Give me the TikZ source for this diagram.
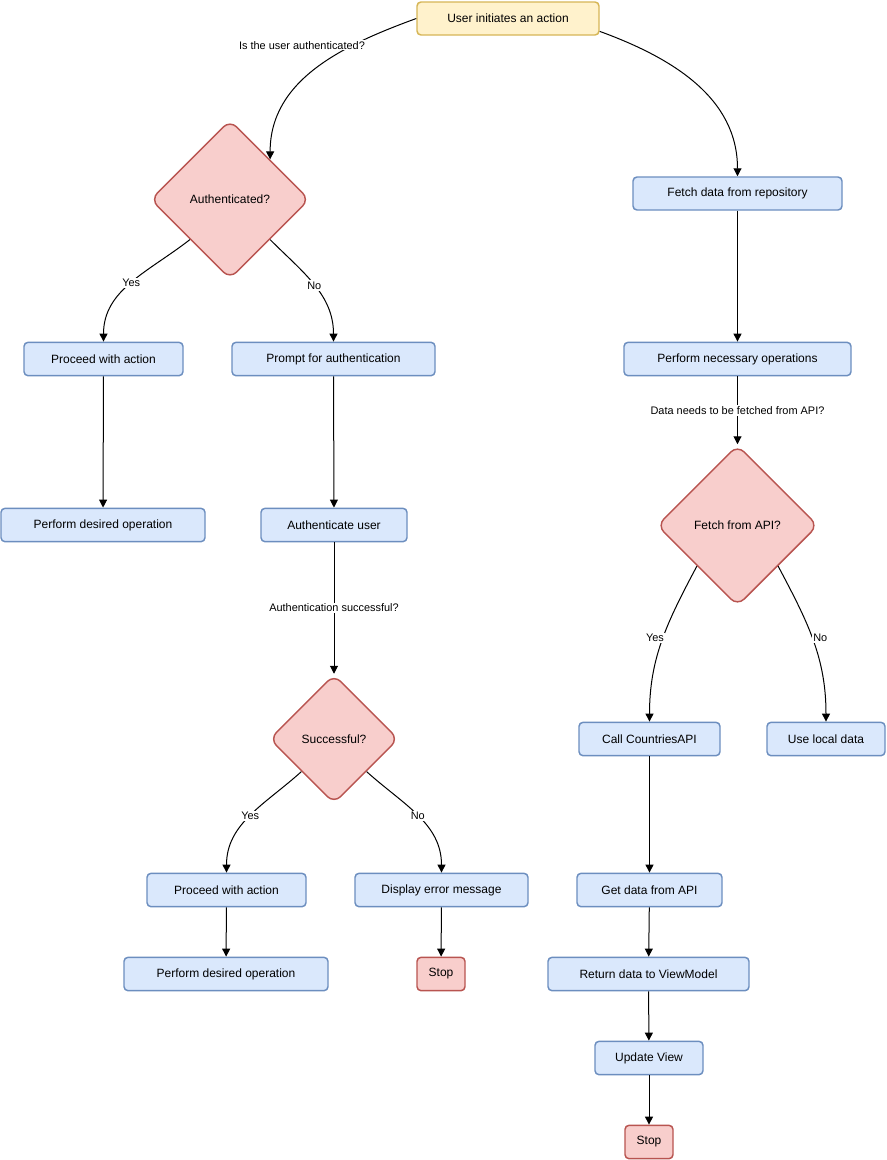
\documentclass[tikz,border=0pt]{standalone}
\usepackage{fontspec}
\setmainfont{Liberation Sans}
\usetikzlibrary{shapes.geometric,arrows.meta}
\definecolor{boxblue}{HTML}{DAE8FC}
\definecolor{lineblue}{HTML}{6C8EBF}
\definecolor{boxred}{HTML}{F8CECC}
\definecolor{linered}{HTML}{B85450}
\definecolor{boxyellow}{HTML}{FFF2CC}
\definecolor{lineyellow}{HTML}{D6B656}

\begin{document}
\begin{tikzpicture}[
  x=0.75pt, y=-0.75pt,
  box/.style={draw=lineblue, fill=boxblue, line width=1.1pt, rounded corners=3pt, minimum width=#1*0.75pt, minimum height=25pt, inner sep=0pt, font=\fontsize{9}{11}\selectfont},
  stopbox/.style={box=48, draw=linered, fill=boxred},
  startbox/.style={box=182, minimum height=24.75pt, draw=lineyellow, fill=boxyellow},
  decide/.style={diamond, draw=linered, fill=boxred, line width=1.1pt, rounded corners=7pt, minimum width=#1*0.75pt, minimum height=#1*0.75pt, inner sep=0pt, font=\fontsize{9}{11}\selectfont},
  arr/.style={-{Triangle[length=6pt,width=6pt]}, line width=0.75pt},
  lbl/.style={fill=white, inner sep=1pt, font=\fontsize{8.2}{10}\selectfont}
]
\useasboundingbox (0,0) rectangle (886,1160);

\node[startbox] (start) at (508,18.5) {User initiates an action};

% left branch: authentication
\node[decide=159] (auth) at (230,199.5) {Authenticated?};
\node[box=159] (procA) at (103.5,359) {Proceed with action};
\node[box=203] (prompt) at (333.5,359) {Prompt for authentication};
\node[box=204] (perfA) at (103,525) {Perform desired operation};
\node[box=146] (authuser) at (334,525) {Authenticate user};
\node[decide=129] (succ) at (334,739) {Successful?};
\node[box=159] (procB) at (226.5,890) {Proceed with action};
\node[box=173] (err) at (441.5,890) {Display error message};
\node[box=204] (perfB) at (226,974) {Perform desired operation};
\node[stopbox] (stopA) at (441,974) {Stop};

% right branch: data
\node[box=209, minimum height=24.75pt] (fetch) at (737.5,193.5) {Fetch data from repository};
\node[box=227] (perform) at (737.5,359) {Perform necessary operations};
\node[decide=161] (fapi) at (737.5,525.5) {Fetch from API?};
\node[box=141] (call) at (649.5,739) {Call CountriesAPI};
\node[box=118] (local) at (826,739) {Use local data};
\node[box=145] (getdata) at (649.5,890) {Get data from API};
\node[box=201] (ret) at (648.5,974) {Return data to ViewModel};
\node[box=108] (update) at (649,1058) {Update View};
\node[stopbox] (stopB) at (649,1142) {Stop};

\draw[arr] (start.west) to[out=200, in=90] node[lbl, pos=0.33, xshift=-33pt, yshift=3pt] {Is the user authenticated?} (auth.north east);
\draw[arr] (start.-8) to[out=-20, in=90] (fetch.north);

\draw[arr] (auth.south west) to[out=-142, in=90] node[lbl, pos=0.5] {Yes} (procA.north);
\draw[arr] (auth.south east) to[out=-45, in=90] node[lbl, pos=0.5] {No} (prompt.north);
\draw[arr] (procA) -- (perfA);
\draw[arr] (prompt) -- (authuser);
\draw[arr] (authuser) -- node[lbl] {Authentication successful?} (succ);
\draw[arr] (succ.south west) to[out=-138, in=90] node[lbl, pos=0.5] {Yes} (procB.north);
\draw[arr] (succ.south east) to[out=-42, in=90] node[lbl, pos=0.5] {No} (err.north);
\draw[arr] (procB) -- (perfB);
\draw[arr] (err) -- (stopA);

\draw[arr] (fetch) -- (perform);
\draw[arr] (perform) -- node[lbl] {Data needs to be fetched from API?} (fapi);
\draw[arr] (fapi.south west) to[out=-118, in=90] node[lbl, pos=0.48, xshift=-6pt] {Yes} (call.north);
\draw[arr] (fapi.south east) to[out=-62, in=90] node[lbl, pos=0.48, xshift=6pt] {No} (local.north);
\draw[arr] (call) -- (getdata);
\draw[arr] (getdata) -- (ret);
\draw[arr] (ret) -- (update);
\draw[arr] (update) -- (stopB);
\end{tikzpicture}
\end{document}
